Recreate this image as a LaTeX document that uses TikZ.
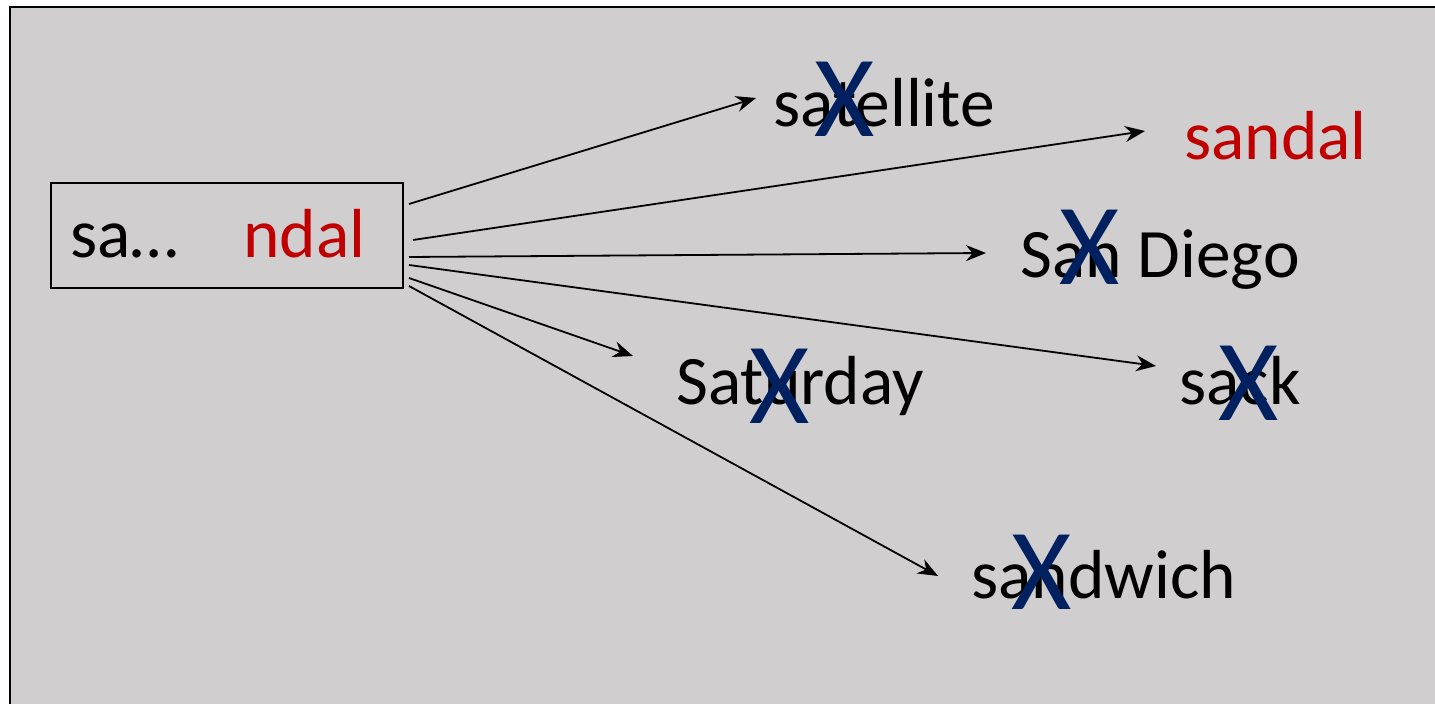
\documentclass[tikz,border=0pt]{standalone}
\usepackage{fontspec}
\setmainfont{Carlito}
\usetikzlibrary{arrows.meta}
\definecolor{panel}{RGB}{208,206,207}
\definecolor{keepred}{RGB}{192,0,0}
\definecolor{crossblue}{RGB}{0,32,96}
\begin{document}
\begin{tikzpicture}[x=0.5pt,y=-0.5pt,
  word/.style={anchor=base west, inner sep=0pt, font=\fontsize{34.7}{40}\selectfont},
  crossmark/.style={inner sep=0pt, text=crossblue, font=\fontsize{58}{70}\selectfont},
  link/.style={-{Stealth[length=10pt,width=8pt]}, line width=0.9pt}]
\useasboundingbox (0,0) rectangle (1435,704);
\clip (0,0) rectangle (1435,704);
% grey panel
\draw[fill=panel, line width=1pt] (9.5,7.5) rectangle (1460,730);

% the partial word
\node[draw, line width=0.8pt, minimum width=176pt, minimum height=52.5pt, inner sep=0pt] (src) at (227,235.5) {};
\node[word] (pre) at (70,258) {sa…};
\node[word, text=keepred] (suf) at (243,258) {ndal};

% candidate words
\node[word] (w1) at (773,127) {satellite};
\node[word, text=keepred] (w2) at (1184,160) {sandal};
\node[word] (w3) at (1020,278) {San Diego};
\node[word] (w4) at (1179,405) {sack};
\node[word] (w5) at (676,405) {Saturday};
\node[word] (w6) at (971,599) {sandwich};

% arrow ends
\coordinate (s1) at (409,204);  \coordinate (t1) at (756,98);
\coordinate (s2) at (413,240);  \coordinate (t2) at (1145,131);
\coordinate (s3) at (409,257);  \coordinate (t3) at (986,253);
\coordinate (s4) at (409,265);  \coordinate (t4) at (1156,366);
\coordinate (s5) at (409,278);  \coordinate (t5) at (633,356);
\coordinate (s6) at (409,286);  \coordinate (t6) at (938,576);
\foreach \i in {1,...,6} \draw[link] (s\i) -- (t\i);

% rejected candidates
\node[crossmark] (x1) at (845,99) {X};
\node[crossmark] (x3) at (1090,247) {X};
\node[crossmark] (x4) at (1249,383) {X};
\node[crossmark] (x5) at (780,386) {X};
\node[crossmark] (x6) at (1042,572) {X};
\end{tikzpicture}
\end{document}
